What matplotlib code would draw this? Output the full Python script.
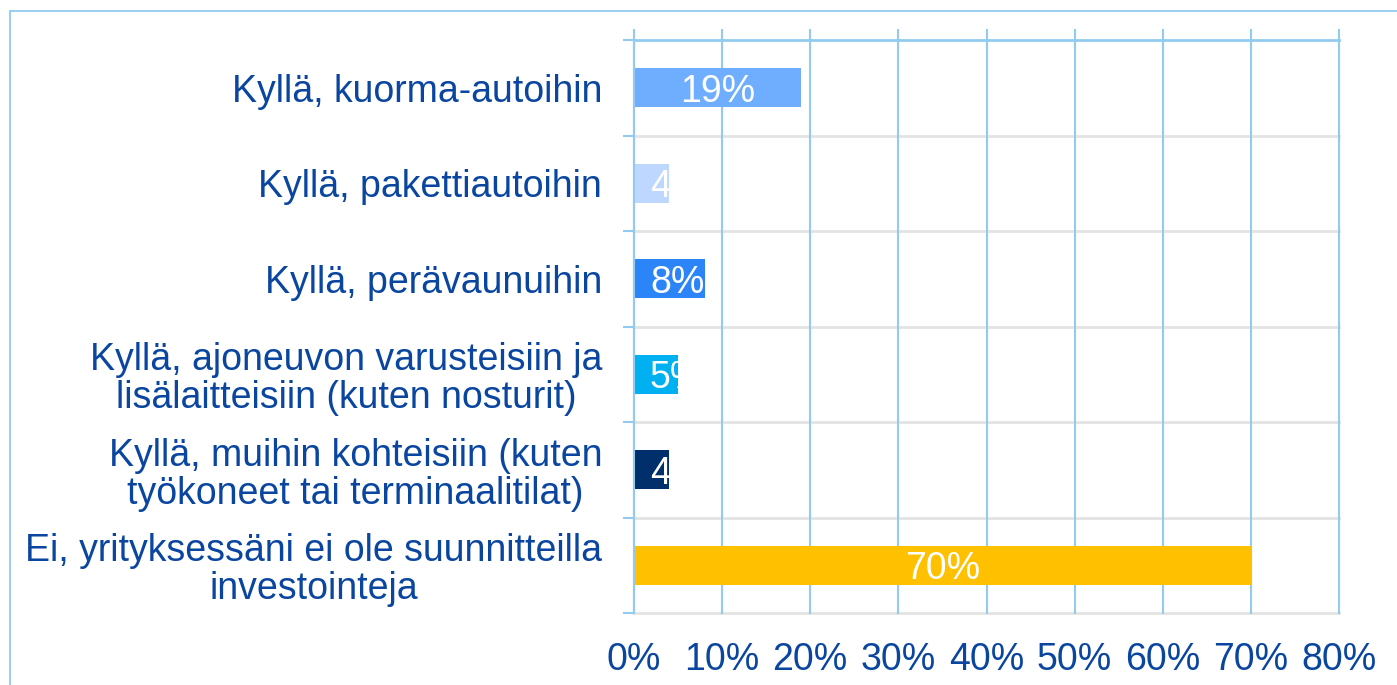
import matplotlib
matplotlib.use("Agg")
import matplotlib.pyplot as plt
from matplotlib.patches import Rectangle
from matplotlib.ticker import FuncFormatter

categories = [
    "Kyllä, kuorma-autoihin",
    "Kyllä, pakettiautoihin",
    "Kyllä, perävaunuihin",
    "Kyllä, ajoneuvon varusteisiin ja\nlisälaitteisiin (kuten nosturit)",
    "Kyllä, muihin kohteisiin (kuten\ntyökoneet tai terminaalitilat)",
    "Ei, yrityksessäni ei ole suunnitteilla\ninvestointeja",
]
values = [19, 4, 8, 5, 4, 70]
bar_colors = ["#6FAEFE", "#BDD7FE", "#2B85F8", "#00B0F0", "#002F6C", "#FFC000"]
x_ticks = [0, 10, 20, 30, 40, 50, 60, 70, 80]

TEXT = "#0A46A0"
GRID_BLUE = "#92CBF0"
GRID_GRAY = "#E3E3E3"
FONT = "Liberation Sans"
FS = 27

plt.rcParams["font.family"] = [FONT, "DejaVu Sans"]

fig = plt.figure(figsize=(13.97, 6.85), dpi=100)
ax = fig.add_axes([634 / 1397, 1 - 613 / 685, (1339 - 634) / 1397, (613 - 40) / 685])

# figure border (cut off at right/bottom)
fig.add_artist(Rectangle((10 / 1397, -0.1), 1.2, 1 - 11 / 685 + 0.1,
                         transform=fig.transFigure, fill=False,
                         edgecolor=GRID_BLUE, linewidth=1.3))

ypos = list(range(len(categories)))
bars = ax.barh(ypos, values, height=0.405, color=bar_colors, zorder=3)

ax.set_xlim(0, 80)
ax.set_ylim(len(categories) - 0.5, -0.5)

# vertical gridlines
for xv in x_ticks:
    ax.axvline(xv, color=GRID_BLUE, linewidth=1.5, zorder=1, clip_on=False)
# horizontal gridlines at category boundaries
for b in range(1, len(categories) + 1):
    ax.axhline(b - 0.5, color=GRID_GRAY, linewidth=2, zorder=0.5, clip_on=False)

for s in ["right", "bottom"]:
    ax.spines[s].set_visible(False)
ax.spines["top"].set_color(GRID_BLUE)
ax.spines["top"].set_linewidth(2)
ax.spines["left"].set_color(GRID_BLUE)
ax.spines["left"].set_linewidth(1.5)
ax.spines["left"].set_zorder(4)

ax.set_yticks(ypos)
ax.set_yticklabels(categories, fontsize=FS, color=TEXT, ha="right",
                   multialignment="center", linespacing=1.08)
ax.tick_params(axis="y", which="major", length=0, pad=23)
ax.set_yticks([b - 0.5 for b in range(len(categories) + 1)], minor=True)
ax.tick_params(axis="y", which="minor", length=8, width=1.5, color=GRID_BLUE, direction="out")

ax.set_xticks(x_ticks)
ax.xaxis.set_major_formatter(FuncFormatter(lambda v, p: f"{int(v)}%"))
ax.tick_params(axis="x", which="major", labelsize=FS, labelcolor=TEXT,
               bottom=False, top=True, labelbottom=True, labeltop=False,
               length=8, width=1.5, color=GRID_BLUE, pad=13)

# value labels, clipped to bars
for rect, v in zip(bars, values):
    yc = rect.get_y() + rect.get_height() / 2
    if v < 10:
        t = ax.annotate(f"{v}%", xy=(0, yc), xytext=(11.5, -3), textcoords="offset points",
                        ha="left", va="center", color="white", fontsize=FS, zorder=5)
    else:
        t = ax.annotate(f"{v}%", xy=(v / 2, yc), xytext=(0, -3), textcoords="offset points",
                        ha="center", va="center", color="white", fontsize=FS, zorder=5)
    t.set_clip_path(rect)

fig.savefig("out.png", dpi=100)
